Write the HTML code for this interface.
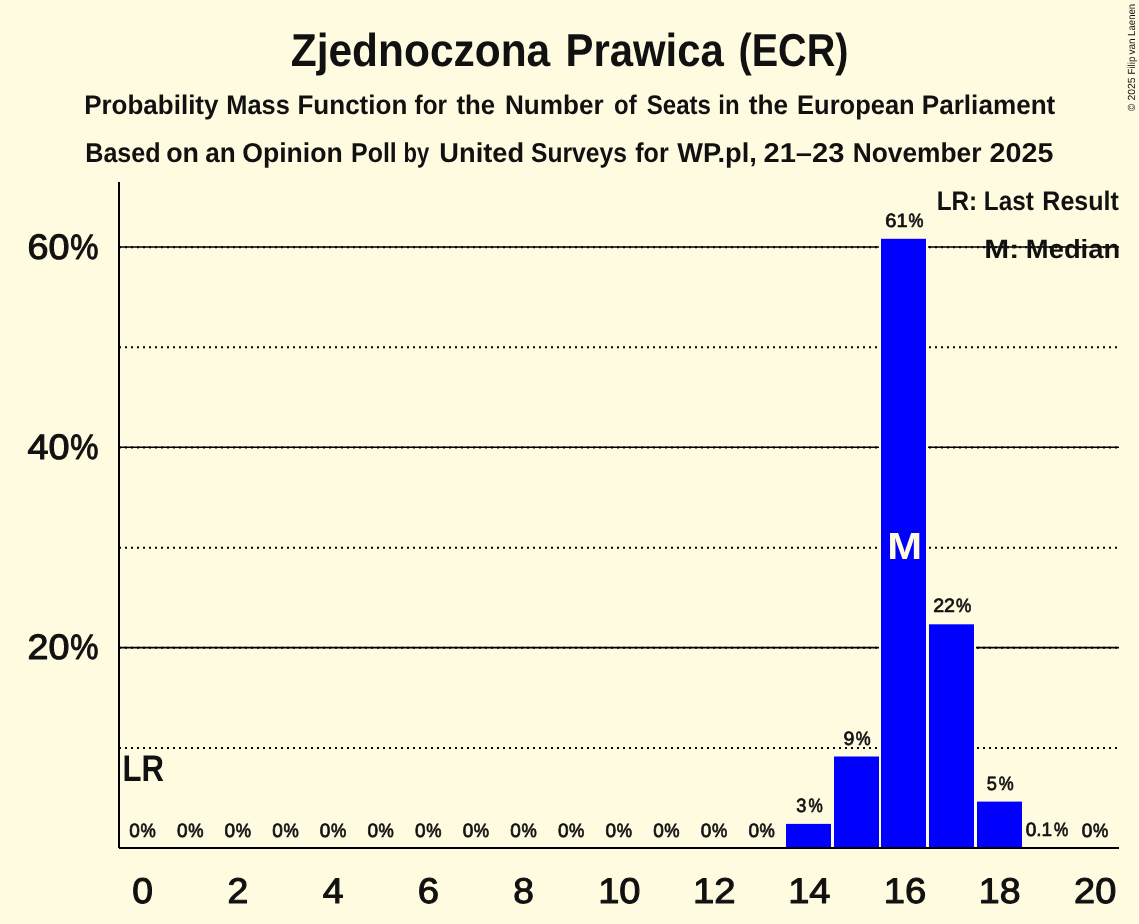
<!DOCTYPE html>
<html lang="pl"><head><meta charset="utf-8"><title>Zjednoczona Prawica (ECR)</title>
<style>html,body{margin:0;padding:0;background:#FFFBE0}svg{display:block}text{font-family:"Liberation Sans",Arial,sans-serif;white-space:pre;text-rendering:geometricPrecision}</style></head><body>
<svg width="1139" height="924" viewBox="0 0 1139 924">
<rect width="1139" height="924" fill="#FFFBE0"/>
<line x1="119" x2="1119" y1="747.99" y2="747.99" stroke="#000000" stroke-width="2" stroke-dasharray="2 4"/>
<line x1="119" x2="1119" y1="647.63" y2="647.63" stroke="#000000" stroke-width="1.6"/>
<line x1="119" x2="1119" y1="647.83" y2="647.83" stroke="#000000" stroke-width="2" stroke-dasharray="2 4"/>
<line x1="119" x2="1119" y1="547.67" y2="547.67" stroke="#000000" stroke-width="2" stroke-dasharray="2 4"/>
<line x1="119" x2="1119" y1="447.31" y2="447.31" stroke="#000000" stroke-width="1.6"/>
<line x1="119" x2="1119" y1="447.51" y2="447.51" stroke="#000000" stroke-width="2" stroke-dasharray="2 4"/>
<line x1="119" x2="1119" y1="347.35" y2="347.35" stroke="#000000" stroke-width="2" stroke-dasharray="2 4"/>
<line x1="119" x2="1119" y1="246.99" y2="246.99" stroke="#000000" stroke-width="1.6"/>
<line x1="119" x2="1119" y1="247.19" y2="247.19" stroke="#000000" stroke-width="2" stroke-dasharray="2 4"/>
<rect x="785" y="822.9" width="47" height="26.1" fill="#0000FF" stroke="#FFFBE0" stroke-width="2"/>
<rect x="833" y="755.5" width="47" height="93.5" fill="#0000FF" stroke="#FFFBE0" stroke-width="2"/>
<rect x="880" y="237.8" width="47" height="611.1" fill="#0000FF" stroke="#FFFBE0" stroke-width="2"/>
<rect x="928" y="623.3" width="47" height="225.7" fill="#0000FF" stroke="#FFFBE0" stroke-width="2"/>
<rect x="976" y="800.6" width="47" height="48.4" fill="#0000FF" stroke="#FFFBE0" stroke-width="2"/>
<line x1="119" x2="119" y1="182" y2="848" stroke="#000000" stroke-width="2"/>
<line x1="119" x2="1119" y1="848" y2="848" stroke="#000000" stroke-width="2"/>
<text y="66.00" font-size="46.23" font-weight="bold" fill="#111111"><tspan x="290.73" textLength="259.52" lengthAdjust="spacingAndGlyphs">Zjednoczona</tspan> <tspan x="565.50" textLength="158.31" lengthAdjust="spacingAndGlyphs">Prawica</tspan> <tspan x="738.52" textLength="109.94" lengthAdjust="spacingAndGlyphs">(ECR)</tspan></text>
<text y="113.80" font-size="26.96" font-weight="bold" fill="#111111"><tspan x="84.16" textLength="134.30" lengthAdjust="spacingAndGlyphs">Probability</tspan> <tspan x="226.30" textLength="63.56" lengthAdjust="spacingAndGlyphs">Mass</tspan> <tspan x="297.46" textLength="109.87" lengthAdjust="spacingAndGlyphs">Function</tspan> <tspan x="414.58" textLength="32.46" lengthAdjust="spacingAndGlyphs">for</tspan> <tspan x="456.38" textLength="38.78" lengthAdjust="spacingAndGlyphs">the</tspan> <tspan x="504.95" textLength="98.73" lengthAdjust="spacingAndGlyphs">Number</tspan> <tspan x="614.06" textLength="22.62" lengthAdjust="spacingAndGlyphs">of</tspan> <tspan x="646.68" textLength="64.31" lengthAdjust="spacingAndGlyphs">Seats</tspan> <tspan x="718.32" textLength="21.27" lengthAdjust="spacingAndGlyphs">in</tspan> <tspan x="748.67" textLength="39.40" lengthAdjust="spacingAndGlyphs">the</tspan> <tspan x="797.09" textLength="117.62" lengthAdjust="spacingAndGlyphs">European</tspan> <tspan x="921.75" textLength="133.57" lengthAdjust="spacingAndGlyphs">Parliament</tspan></text>
<text y="161.90" font-size="27.24" font-weight="bold" fill="#111111"><tspan x="85.22" textLength="75.47" lengthAdjust="spacingAndGlyphs">Based</tspan> <tspan x="166.25" textLength="32.74" lengthAdjust="spacingAndGlyphs">on</tspan> <tspan x="205.23" textLength="30.42" lengthAdjust="spacingAndGlyphs">an</tspan> <tspan x="242.20" textLength="100.48" lengthAdjust="spacingAndGlyphs">Opinion</tspan> <tspan x="351.03" textLength="45.76" lengthAdjust="spacingAndGlyphs">Poll</tspan> <tspan x="403.54" textLength="25.68" lengthAdjust="spacingAndGlyphs">by</tspan> <tspan x="439.37" textLength="84.74" lengthAdjust="spacingAndGlyphs">United</tspan> <tspan x="530.97" textLength="96.06" lengthAdjust="spacingAndGlyphs">Surveys</tspan> <tspan x="635.27" textLength="33.38" lengthAdjust="spacingAndGlyphs">for</tspan> <tspan x="677.19" textLength="79.67" lengthAdjust="spacingAndGlyphs">WP.pl,</tspan> <tspan x="763.49" textLength="80.97" lengthAdjust="spacingAndGlyphs">21–23</tspan> <tspan x="852.64" textLength="128.84" lengthAdjust="spacingAndGlyphs">November</tspan> <tspan x="989.60" textLength="63.84" lengthAdjust="spacingAndGlyphs">2025</tspan></text>
<text y="259.13" font-size="35.28" font-weight="normal" fill="#111111" stroke="#111111" stroke-width="1.06" stroke-linejoin="round"><tspan x="27.49" textLength="41.98" lengthAdjust="spacingAndGlyphs">60</tspan><tspan x="70.24" textLength="28.23" lengthAdjust="spacingAndGlyphs">%</tspan></text>
<text y="459.13" font-size="35.28" font-weight="normal" fill="#111111" stroke="#111111" stroke-width="1.06" stroke-linejoin="round"><tspan x="27.40" textLength="42.07" lengthAdjust="spacingAndGlyphs">40</tspan><tspan x="70.24" textLength="28.23" lengthAdjust="spacingAndGlyphs">%</tspan></text>
<text y="659.13" font-size="35.28" font-weight="normal" fill="#111111" stroke="#111111" stroke-width="1.06" stroke-linejoin="round"><tspan x="27.52" textLength="41.95" lengthAdjust="spacingAndGlyphs">20</tspan><tspan x="70.24" textLength="28.23" lengthAdjust="spacingAndGlyphs">%</tspan></text>
<text y="781.10" font-size="37.25" font-weight="bold" fill="#111111"><tspan x="122.42" textLength="41.46" lengthAdjust="spacingAndGlyphs">LR</tspan></text>
<text y="210.00" font-size="26.82" font-weight="bold" fill="#111111"><tspan x="936.67" textLength="40.48" lengthAdjust="spacingAndGlyphs">LR:</tspan> <tspan x="983.77" textLength="50.04" lengthAdjust="spacingAndGlyphs">Last</tspan> <tspan x="1042.33" textLength="76.50" lengthAdjust="spacingAndGlyphs">Result</tspan></text>
<text y="257.70" font-size="26.40" font-weight="bold" fill="#111111"><tspan x="984.30" textLength="34.79" lengthAdjust="spacingAndGlyphs">M:</tspan> <tspan x="1025.87" textLength="94.30" lengthAdjust="spacingAndGlyphs">Median</tspan></text>
<text y="559.00" font-size="37.97" font-weight="bold" fill="#FFFBE0"><tspan x="887.21" textLength="34.80" lengthAdjust="spacingAndGlyphs">M</tspan></text>
<text y="903.32" font-size="35.70" font-weight="normal" fill="#111111" stroke="#111111" stroke-width="1.07" stroke-linejoin="round"><tspan x="132.29" textLength="20.72" lengthAdjust="spacingAndGlyphs">0</tspan></text>
<text y="903.32" font-size="35.70" font-weight="normal" fill="#111111" stroke="#111111" stroke-width="1.07" stroke-linejoin="round"><tspan x="227.47" textLength="20.85" lengthAdjust="spacingAndGlyphs">2</tspan></text>
<text y="903.32" font-size="35.70" font-weight="normal" fill="#111111" stroke="#111111" stroke-width="1.07" stroke-linejoin="round"><tspan x="322.80" textLength="20.84" lengthAdjust="spacingAndGlyphs">4</tspan></text>
<text y="903.32" font-size="35.70" font-weight="normal" fill="#111111" stroke="#111111" stroke-width="1.07" stroke-linejoin="round"><tspan x="417.72" textLength="21.31" lengthAdjust="spacingAndGlyphs">6</tspan></text>
<text y="903.32" font-size="35.70" font-weight="normal" fill="#111111" stroke="#111111" stroke-width="1.07" stroke-linejoin="round"><tspan x="513.33" textLength="20.65" lengthAdjust="spacingAndGlyphs">8</tspan></text>
<text y="903.32" font-size="35.70" font-weight="normal" fill="#111111" stroke="#111111" stroke-width="1.07" stroke-linejoin="round"><tspan x="598.16" textLength="42.32" lengthAdjust="spacingAndGlyphs">10</tspan></text>
<text y="903.32" font-size="35.70" font-weight="normal" fill="#111111" stroke="#111111" stroke-width="1.07" stroke-linejoin="round"><tspan x="693.04" textLength="42.66" lengthAdjust="spacingAndGlyphs">12</tspan></text>
<text y="903.32" font-size="35.70" font-weight="normal" fill="#111111" stroke="#111111" stroke-width="1.07" stroke-linejoin="round"><tspan x="788.16" textLength="42.33" lengthAdjust="spacingAndGlyphs">14</tspan></text>
<text y="903.32" font-size="35.70" font-weight="normal" fill="#111111" stroke="#111111" stroke-width="1.07" stroke-linejoin="round"><tspan x="883.65" textLength="42.51" lengthAdjust="spacingAndGlyphs">16</tspan></text>
<text y="903.32" font-size="35.70" font-weight="normal" fill="#111111" stroke="#111111" stroke-width="1.07" stroke-linejoin="round"><tspan x="978.89" textLength="41.73" lengthAdjust="spacingAndGlyphs">18</tspan></text>
<text y="903.32" font-size="35.70" font-weight="normal" fill="#111111" stroke="#111111" stroke-width="1.07" stroke-linejoin="round"><tspan x="1074.06" textLength="42.22" lengthAdjust="spacingAndGlyphs">20</tspan></text>
<text y="836.82" font-size="19.28" font-weight="normal" fill="#111111" stroke="#111111" stroke-width="0.73" stroke-linejoin="round"><tspan x="129.33" textLength="10.57" lengthAdjust="spacingAndGlyphs">0</tspan><tspan x="140.52" textLength="15.28" lengthAdjust="spacingAndGlyphs">%</tspan></text>
<text y="836.82" font-size="19.28" font-weight="normal" fill="#111111" stroke="#111111" stroke-width="0.73" stroke-linejoin="round"><tspan x="176.95" textLength="10.57" lengthAdjust="spacingAndGlyphs">0</tspan><tspan x="188.14" textLength="15.28" lengthAdjust="spacingAndGlyphs">%</tspan></text>
<text y="836.82" font-size="19.28" font-weight="normal" fill="#111111" stroke="#111111" stroke-width="0.73" stroke-linejoin="round"><tspan x="224.57" textLength="10.57" lengthAdjust="spacingAndGlyphs">0</tspan><tspan x="235.76" textLength="15.28" lengthAdjust="spacingAndGlyphs">%</tspan></text>
<text y="836.82" font-size="19.28" font-weight="normal" fill="#111111" stroke="#111111" stroke-width="0.73" stroke-linejoin="round"><tspan x="272.19" textLength="10.57" lengthAdjust="spacingAndGlyphs">0</tspan><tspan x="283.38" textLength="15.28" lengthAdjust="spacingAndGlyphs">%</tspan></text>
<text y="836.82" font-size="19.28" font-weight="normal" fill="#111111" stroke="#111111" stroke-width="0.73" stroke-linejoin="round"><tspan x="319.81" textLength="10.57" lengthAdjust="spacingAndGlyphs">0</tspan><tspan x="331.00" textLength="15.28" lengthAdjust="spacingAndGlyphs">%</tspan></text>
<text y="836.82" font-size="19.28" font-weight="normal" fill="#111111" stroke="#111111" stroke-width="0.73" stroke-linejoin="round"><tspan x="367.42" textLength="10.57" lengthAdjust="spacingAndGlyphs">0</tspan><tspan x="378.62" textLength="15.28" lengthAdjust="spacingAndGlyphs">%</tspan></text>
<text y="836.82" font-size="19.28" font-weight="normal" fill="#111111" stroke="#111111" stroke-width="0.73" stroke-linejoin="round"><tspan x="415.04" textLength="10.57" lengthAdjust="spacingAndGlyphs">0</tspan><tspan x="426.24" textLength="15.28" lengthAdjust="spacingAndGlyphs">%</tspan></text>
<text y="836.82" font-size="19.28" font-weight="normal" fill="#111111" stroke="#111111" stroke-width="0.73" stroke-linejoin="round"><tspan x="462.66" textLength="10.57" lengthAdjust="spacingAndGlyphs">0</tspan><tspan x="473.86" textLength="15.28" lengthAdjust="spacingAndGlyphs">%</tspan></text>
<text y="836.82" font-size="19.28" font-weight="normal" fill="#111111" stroke="#111111" stroke-width="0.73" stroke-linejoin="round"><tspan x="510.28" textLength="10.57" lengthAdjust="spacingAndGlyphs">0</tspan><tspan x="521.47" textLength="15.28" lengthAdjust="spacingAndGlyphs">%</tspan></text>
<text y="836.82" font-size="19.28" font-weight="normal" fill="#111111" stroke="#111111" stroke-width="0.73" stroke-linejoin="round"><tspan x="557.90" textLength="10.57" lengthAdjust="spacingAndGlyphs">0</tspan><tspan x="569.09" textLength="15.28" lengthAdjust="spacingAndGlyphs">%</tspan></text>
<text y="836.82" font-size="19.28" font-weight="normal" fill="#111111" stroke="#111111" stroke-width="0.73" stroke-linejoin="round"><tspan x="605.52" textLength="10.57" lengthAdjust="spacingAndGlyphs">0</tspan><tspan x="616.71" textLength="15.28" lengthAdjust="spacingAndGlyphs">%</tspan></text>
<text y="836.82" font-size="19.28" font-weight="normal" fill="#111111" stroke="#111111" stroke-width="0.73" stroke-linejoin="round"><tspan x="653.14" textLength="10.57" lengthAdjust="spacingAndGlyphs">0</tspan><tspan x="664.33" textLength="15.28" lengthAdjust="spacingAndGlyphs">%</tspan></text>
<text y="836.82" font-size="19.28" font-weight="normal" fill="#111111" stroke="#111111" stroke-width="0.73" stroke-linejoin="round"><tspan x="700.76" textLength="10.57" lengthAdjust="spacingAndGlyphs">0</tspan><tspan x="711.95" textLength="15.28" lengthAdjust="spacingAndGlyphs">%</tspan></text>
<text y="836.82" font-size="19.28" font-weight="normal" fill="#111111" stroke="#111111" stroke-width="0.73" stroke-linejoin="round"><tspan x="748.38" textLength="10.57" lengthAdjust="spacingAndGlyphs">0</tspan><tspan x="759.57" textLength="15.28" lengthAdjust="spacingAndGlyphs">%</tspan></text>
<text y="811.72" font-size="19.28" font-weight="normal" fill="#111111" stroke="#111111" stroke-width="0.73" stroke-linejoin="round"><tspan x="796.34" textLength="10.13" lengthAdjust="spacingAndGlyphs">3</tspan><tspan x="808.53" textLength="14.24" lengthAdjust="spacingAndGlyphs">%</tspan></text>
<text y="745.12" font-size="19.28" font-weight="normal" fill="#111111" stroke="#111111" stroke-width="0.73" stroke-linejoin="round"><tspan x="843.45" textLength="10.92" lengthAdjust="spacingAndGlyphs">9</tspan><tspan x="855.72" textLength="14.86" lengthAdjust="spacingAndGlyphs">%</tspan></text>
<text y="226.97" font-size="19.28" font-weight="normal" fill="#111111" stroke="#111111" stroke-width="0.73" stroke-linejoin="round"><tspan x="885.26" textLength="22.26" lengthAdjust="spacingAndGlyphs">61</tspan><tspan x="908.52" textLength="14.97" lengthAdjust="spacingAndGlyphs">%</tspan></text>
<text y="612.22" font-size="19.28" font-weight="normal" fill="#111111" stroke="#111111" stroke-width="0.73" stroke-linejoin="round"><tspan x="933.18" textLength="21.85" lengthAdjust="spacingAndGlyphs">22</tspan><tspan x="956.01" textLength="15.28" lengthAdjust="spacingAndGlyphs">%</tspan></text>
<text y="789.72" font-size="19.28" font-weight="normal" fill="#111111" stroke="#111111" stroke-width="0.73" stroke-linejoin="round"><tspan x="986.80" textLength="10.13" lengthAdjust="spacingAndGlyphs">5</tspan><tspan x="998.67" textLength="14.91" lengthAdjust="spacingAndGlyphs">%</tspan></text>
<text y="835.72" font-size="19.28" font-weight="normal" fill="#111111" stroke="#111111" stroke-width="0.73" stroke-linejoin="round"><tspan x="1025.72" textLength="26.43" lengthAdjust="spacingAndGlyphs">0.1</tspan><tspan x="1054.03" textLength="14.24" lengthAdjust="spacingAndGlyphs">%</tspan></text>
<text y="836.82" font-size="19.28" font-weight="normal" fill="#111111" stroke="#111111" stroke-width="0.73" stroke-linejoin="round"><tspan x="1081.71" textLength="10.57" lengthAdjust="spacingAndGlyphs">0</tspan><tspan x="1092.90" textLength="15.28" lengthAdjust="spacingAndGlyphs">%</tspan></text>
<text y="1134.90" font-size="10.33" font-weight="normal" fill="#111111" transform="rotate(-90)"><tspan x="-110.95" textLength="7.10" lengthAdjust="spacingAndGlyphs">©</tspan> <tspan x="-100.62" textLength="23.07" lengthAdjust="spacingAndGlyphs">2025</tspan> <tspan x="-74.61" textLength="18.02" lengthAdjust="spacingAndGlyphs">Filip</tspan> <tspan x="-54.46" textLength="16.12" lengthAdjust="spacingAndGlyphs">van</tspan> <tspan x="-35.89" textLength="32.02" lengthAdjust="spacingAndGlyphs">Laenen</tspan></text>
</svg></body></html>
